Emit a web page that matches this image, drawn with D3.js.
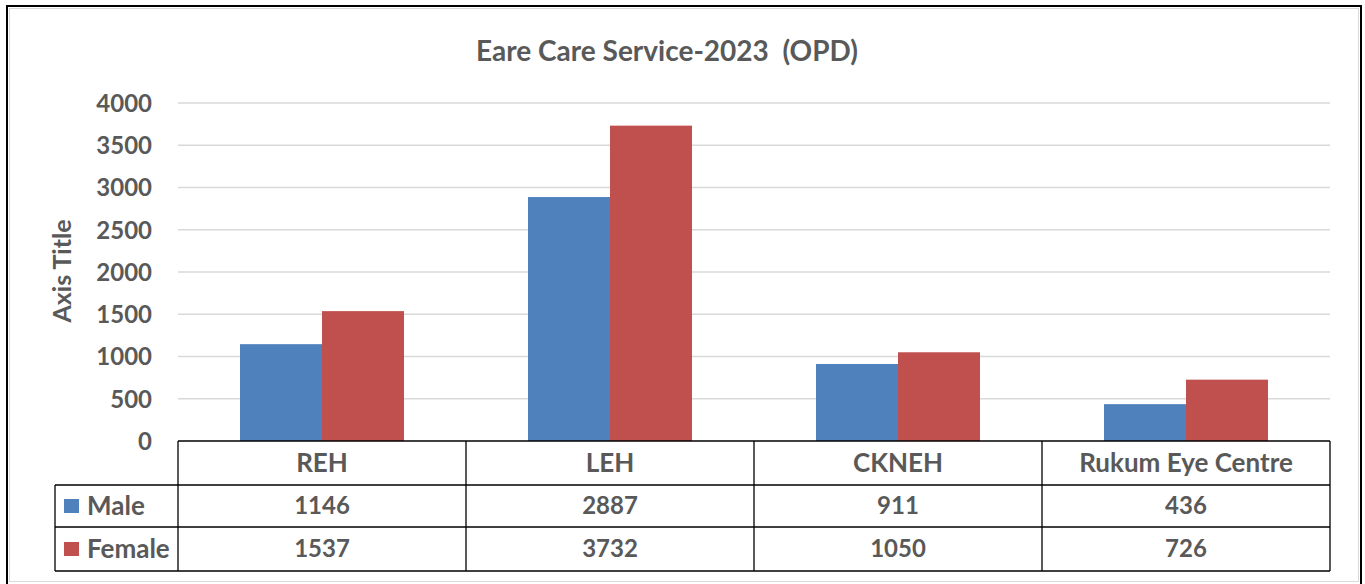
<!DOCTYPE html>
<html>
<head>
<meta charset="utf-8">
<script src="https://cdn.jsdelivr.net/npm/d3@7"></script>
<style>
  body { margin: 0; background: #fff; }
  text { font-family: Lato, "Open Sans", sans-serif; font-weight: bold; fill: #595959; }
</style>
</head>
<body>
<script>
// Data
const categories = ["REH", "LEH", "CKNEH", "Rukum Eye Centre"];
const seriesNames = ["Male", "Female"];
const maleValues = [1146, 2887, 911, 436];
const femaleValues = [1537, 3732, 1050, 726];
const yTicks = [0, 500, 1000, 1500, 2000, 2500, 3000, 3500, 4000];

const colors = { "Male": "#4F81BD", "Female": "#C0504D" };
const seriesValues = { "Male": maleValues, "Female": femaleValues };

const svgwidth = 1365;
const svgheight = 584;

let svg = d3.select("body").append("svg")
    .attr("width", svgwidth)
    .attr("height", svgheight)

// outer frame
svg.append("rect")
    .attr("x", 7).attr("y", 6)
    .attr("width", 1354).attr("height", 600)
    .attr("fill", "none").attr("stroke", "#000").attr("stroke-width", 2)
svg.append("rect")
    .attr("x", 9.5).attr("y", 8.5)
    .attr("width", 1349).attr("height", 573)
    .attr("fill", "none").attr("stroke", "#d9d9d9").attr("stroke-width", 1)

const plotLeft = 178, plotRight = 1330, plotTop = 103, plotBottom = 441;
const legendLeft = 55;
const rowH = [44, 42, 44];

let xScale = d3.scaleBand()
    .domain(categories)
    .range([plotLeft, plotRight])
    .padding(0)
let xSub = d3.scaleBand()
    .domain(seriesNames)
    .range([0, xScale.bandwidth()])
    .paddingInner(0)
    .paddingOuter(0.756)
let yScale = d3.scaleLinear()
    .domain([0, 4000])
    .range([plotBottom, plotTop])

// title
svg.append("text")
    .attr("x", 667).attr("y", 61)
    .attr("text-anchor", "middle")
    .style("font-size", "28px")
    .style("white-space", "pre")
    .text("Eare Care Service-2023  (OPD)")

// gridlines
svg.append("g")
    .selectAll("line")
    .data(yTicks.filter(d => d > 0)).enter()
        .append("line")
    .attr("x1", plotLeft).attr("x2", plotRight)
    .attr("y1", d => yScale(d)).attr("y2", d => yScale(d))
    .attr("stroke", "#d9d9d9").attr("stroke-width", 1.3)

// y axis labels
let yAxis = svg.append("g")
    .attr("transform", `translate(${plotLeft - 26},0)`)
    .call(d3.axisLeft(yScale).tickValues(yTicks).tickFormat(d3.format("d")).tickSize(0).tickPadding(0))
yAxis.select(".domain").remove()
yAxis.selectAll("text")
    .style("font-size", "24px")
    .style("font-family", "Lato, sans-serif")
    .attr("fill", "#595959")
    .attr("dy", "0.35em")

// axis title
svg.append("text")
    .attr("transform", `translate(71, ${271}) rotate(-90)`)
    .attr("text-anchor", "middle")
    .style("font-size", "25px")
    .text("Axis Title")

// bars
let groups = svg.selectAll(".group")
    .data(categories).enter()
        .append("g")
    .attr("class", "group")
    .attr("transform", d => `translate(${xScale(d)},0)`)
groups.selectAll("rect")
    .data((c, i) => seriesNames.map(s => ({ series: s, value: seriesValues[s][i] }))).enter()
        .append("rect")
    .attr("x", d => xSub(d.series))
    .attr("width", xSub.bandwidth())
    .attr("y", d => yScale(d.value))
    .attr("height", d => plotBottom - yScale(d.value))
    .attr("fill", d => colors[d.series])

// data table
const row1 = plotBottom, row2 = plotBottom + rowH[0], row3 = row2 + rowH[1], row4 = row3 + rowH[2];
let table = svg.append("g")
    .attr("stroke", "#000").attr("stroke-width", 1.3).attr("fill", "none")
table.append("line").attr("x1", plotLeft).attr("x2", plotRight).attr("y1", row1).attr("y2", row1)
table.selectAll(".hline")
    .data([row2, row3, row4]).enter()
        .append("line")
    .attr("x1", legendLeft).attr("x2", plotRight)
    .attr("y1", d => d).attr("y2", d => d)
table.selectAll(".vline")
    .data(categories.map(c => xScale(c)).concat([plotRight])).enter()
        .append("line")
    .attr("x1", d => d).attr("x2", d => d)
    .attr("y1", row1).attr("y2", row4)
table.append("line").attr("x1", legendLeft).attr("x2", legendLeft).attr("y1", row2).attr("y2", row4)

svg.selectAll(".catlabel")
    .data(categories).enter()
        .append("text")
    .attr("x", d => xScale(d) + xScale.bandwidth() / 2)
    .attr("y", (row1 + row2) / 2)
    .attr("dy", "0.35em")
    .attr("text-anchor", "middle")
    .style("font-size", "26px")
    .text(d => d)

const rowCenters = { "Male": (row2 + row3) / 2, "Female": (row3 + row4) / 2 };
seriesNames.forEach(s => {
    svg.append("rect")
        .attr("x", 64).attr("y", rowCenters[s] - 7)
        .attr("width", 15).attr("height", 14)
        .attr("fill", colors[s])
    svg.append("text")
        .attr("x", 87).attr("y", rowCenters[s])
        .attr("dy", "0.35em")
        .style("font-size", "26px")
        .text(s)
    svg.selectAll(".val-" + s)
        .data(categories).enter()
            .append("text")
        .attr("x", d => xScale(d) + xScale.bandwidth() / 2)
        .attr("y", rowCenters[s])
        .attr("dy", "0.35em")
        .attr("text-anchor", "middle")
        .style("font-size", "24px")
        .text((d, i) => seriesValues[s][i])
})
</script>
</body>
</html>
